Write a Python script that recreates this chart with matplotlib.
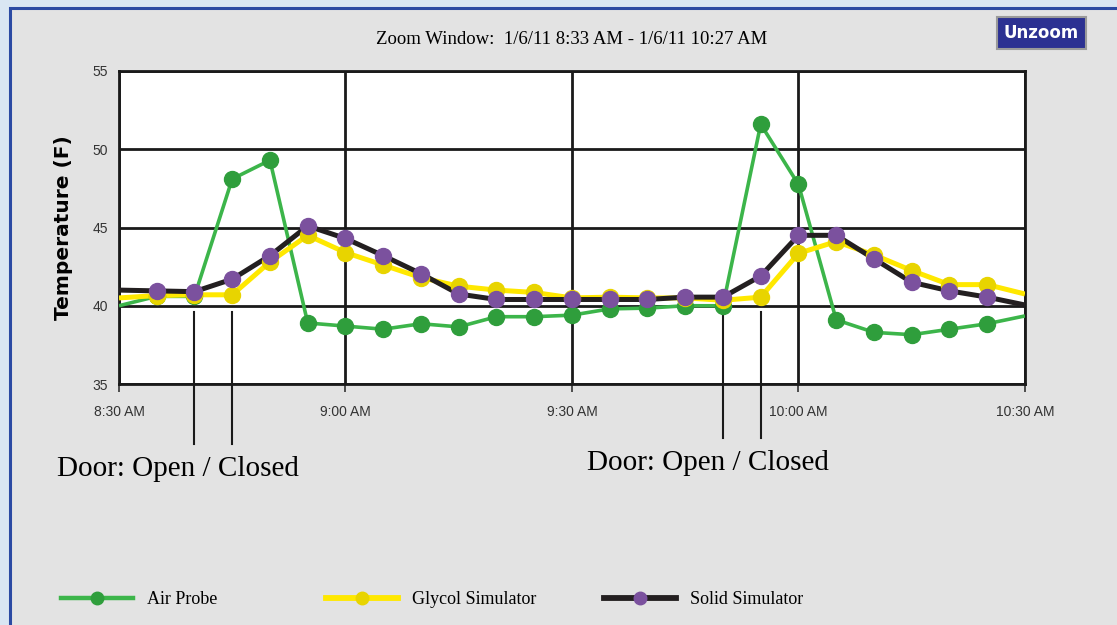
import matplotlib.pyplot as plt
import matplotlib.dates as mdates
import pandas as pd
from matplotlib.lines import Line2D
from matplotlib.patches import Rectangle

# readings every 5 minutes, first and last points sit on the window edges
times = ['08:30', '08:35', '08:40', '08:45', '08:50', '08:55', '09:00', '09:05',
         '09:10', '09:15', '09:20', '09:25', '09:30', '09:35', '09:40', '09:45',
         '09:50', '09:55', '10:00', '10:05', '10:10', '10:15', '10:20', '10:25', '10:30']
air_probe = [40.0, 40.6, 40.6, 48.1, 49.3, 38.9, 38.7, 38.5, 38.85, 38.65, 39.3, 39.3,
             39.4, 39.8, 39.85, 40.0, 40.0, 51.6, 47.75, 39.1, 38.3, 38.15, 38.5, 38.85, 39.35]
glycol = [40.5, 40.65, 40.7, 40.7, 42.8, 44.5, 43.4, 42.6, 41.8, 41.25, 41.0, 40.85,
          40.5, 40.55, 40.5, 40.5, 40.35, 40.55, 43.35, 44.1, 43.25, 42.25, 41.35, 41.35, 40.75]
solid = [41.0, 40.95, 40.9, 41.7, 43.2, 45.1, 44.3, 43.2, 42.05, 40.75, 40.4, 40.4,
         40.4, 40.4, 40.4, 40.55, 40.55, 41.9, 44.5, 44.5, 43.0, 41.5, 40.95, 40.55, 40.05]
door_events = [['08:40', '08:45'], ['09:50', '09:55']]
door_label = 'Door: Open / Closed'
x_ticks = ['08:30', '09:00', '09:30', '10:00', '10:30']

day = '2011-01-06 '
t = pd.to_datetime([day + s for s in times])

plt.rcParams['font.family'] = ['Liberation Sans', 'DejaVu Sans']
fig = plt.figure(figsize=(11.17, 6.25), dpi=100)
fig.patch.set_facecolor('#d9e6f3')

# gray window panel with blue border
panel = Rectangle((0.009, -0.01), 1.0, 0.998, transform=fig.transFigure,
                  facecolor='#e3e3e3', edgecolor='#2b4aa3', linewidth=2.2, zorder=-10)
fig.patches.append(panel)

ax = fig.add_axes([0.1065, 0.3856, 0.8111, 0.5008])
ax.set_facecolor('white')

series = [
    (air_probe, '#3cb54a', '#2f9e3c', 2.6, 'Air Probe'),
    (glycol, '#ffe800', '#e8d400', 3.6, 'Glycol Simulator'),
    (solid, '#231f20', '#7b519e', 3.6, 'Solid Simulator'),
]
handles = []
for i, (vals, lc, mc, lw, name) in enumerate(series):
    ax.plot(t, vals, color=lc, lw=lw, zorder=3 + i, solid_capstyle='butt')
    ax.plot(t[1:-1], vals[1:-1], 'o', color=mc, markersize=11.5,
            markeredgecolor=mc, zorder=6 + i)
    handles.append(Line2D([0], [0], color=lc, lw=lw + 0.6, marker='o',
                          markersize=9, markerfacecolor=mc, markeredgecolor=mc))

ax.set_ylim(35, 55)
ax.set_xlim(pd.Timestamp(day + '08:30'), pd.Timestamp(day + '10:30'))
ax.set_yticks([35, 40, 45, 50, 55])
ax.set_xticks(pd.to_datetime([day + s for s in x_ticks]))
ax.xaxis.set_major_formatter(mdates.DateFormatter('%-I:%M %p'))
ax.grid(True, color='#1a1a1a', linewidth=2.0)
ax.set_axisbelow(True)
for sp in ax.spines.values():
    sp.set_color('#1a1a1a')
    sp.set_linewidth(2.0)
ax.tick_params(axis='y', length=0, pad=8, labelsize=10, colors='#333333')
ax.tick_params(axis='x', length=6, width=1.2, pad=9, labelsize=10, colors='#333333')
ax.xaxis.set_tick_params(direction='out')
ax.set_ylabel('Temperature (F)', family='DejaVu Sans', fontweight='bold',
              fontsize=14.5, labelpad=14)

# door open/closed markers below the axis
bottoms = [445, 439]
for (a, b), yb in zip(door_events, bottoms):
    for s in (a, b):
        xd = mdates.date2num(pd.Timestamp(day + s))
        ax.plot([xd, xd], [39.6, 39.6 - (yb - 313) / 15.7], color='#1a1a1a',
                lw=1.5, clip_on=False, zorder=2)
fig.text(57 / 1117, 1 - 469 / 625, door_label, family='Liberation Serif',
         fontsize=21, va='center', ha='left')
fig.text(587 / 1117, 1 - 463 / 625, door_label, family='Liberation Serif',
         fontsize=21, va='center', ha='left')

fig.text(572 / 1117, 1 - 40 / 625, 'Zoom Window:  1/6/11 8:33 AM - 1/6/11 10:27 AM',
         family='Liberation Serif', fontsize=13.5, ha='center', va='center')

# Unzoom button
btn = Rectangle((997 / 1117, 1 - 49 / 625), 89 / 1117, 32 / 625,
                transform=fig.transFigure, facecolor='#2c3192',
                edgecolor='#9a9a9a', linewidth=1.5)
fig.patches.append(btn)
fig.text(1041.5 / 1117, 1 - 33 / 625, 'Unzoom', color='white', fontweight='bold',
         family='DejaVu Sans', fontsize=12, ha='center', va='center')

# legend entries
leg_x = [45, 310, 588]
for h, x0, (_, _, _, _, name) in zip(handles, leg_x, series):
    fig.legend([h], [name], loc='center left',
               bbox_to_anchor=(x0 / 1117, 1 - 600 / 625), frameon=False,
               handlelength=3.95, handletextpad=0.8,
               prop={'family': 'Liberation Serif', 'size': 13})

fig.savefig('out.png', dpi=100, facecolor=fig.get_facecolor())
